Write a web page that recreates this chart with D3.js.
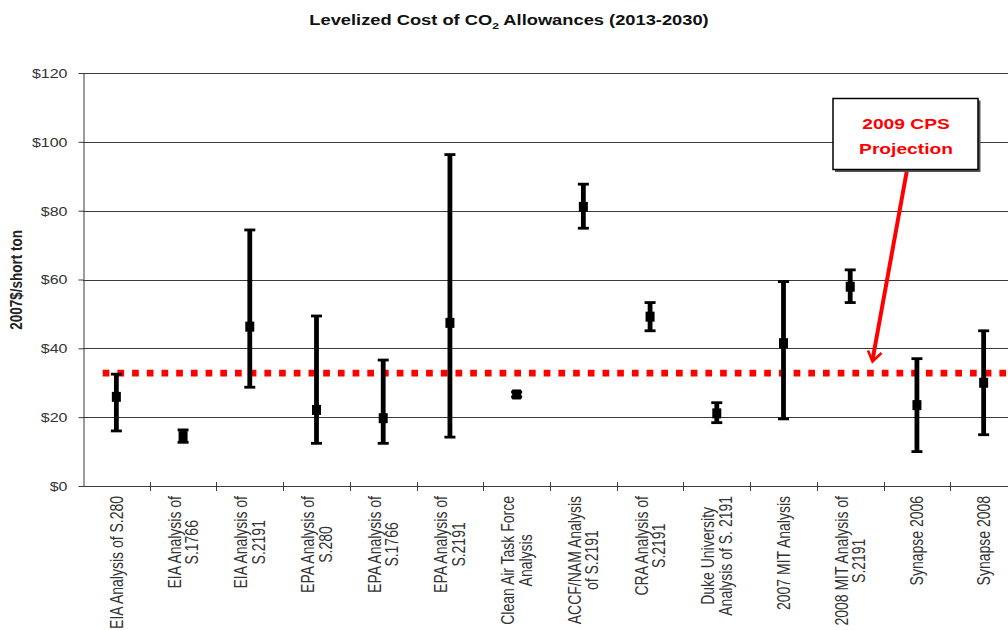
<!DOCTYPE html>
<html>
<head>
<meta charset="utf-8">
<script src="https://cdn.jsdelivr.net/npm/d3@7"></script>
<style>
  html, body { margin: 0; padding: 0; background: #fff; overflow: hidden; }
  svg { display: block; font-family: Arial, "Liberation Sans", sans-serif; }
</style>
</head>
<body>
<svg id="chart" width="1008" height="630"></svg>
<script>
// ---- data ----
const categories = [
  ["EIA Analysis of S.280"],
  ["EIA Analysis of", "S.1766"],
  ["EIA Analysis of", "S.2191"],
  ["EPA Analysis of", "S.280"],
  ["EPA Analysis of", "S.1766"],
  ["EPA Analysis of", "S.2191"],
  ["Clean Air Task Force", "Analysis"],
  ["ACCF/NAM Analysis", "of S.2191"],
  ["CRA Analysis of", "S.2191"],
  ["Duke University", "Analysis of S. 2191"],
  ["2007 MIT Analysis"],
  ["2008 MIT Analysis of", "S.2191"],
  ["Synapse 2006"],
  ["Synapse 2008"]
];
const lowValues  = [16.0, 12.7, 28.7, 12.4, 12.4, 14.2, 25.9, 74.9, 45.1, 18.4, 19.5, 53.3, 10.0, 14.9];
const midValues  = [25.9, 14.5, 46.3, 22.1, 19.7, 47.4, 26.6, 81.1, 49.2, 21.1, 41.5, 57.9, 23.5, 30.0];
const highValues = [32.5, 16.3, 74.4, 49.4, 36.6, 96.3, 27.3, 87.7, 53.3, 24.2, 59.4, 62.8, 37.0, 45.1];
const yTicks = [0, 20, 40, 60, 80, 100, 120];
const cpsProjection = 32.8;
const titleMain = "Levelized Cost of CO";
const titleSub = "2";
const titleRest = " Allowances (2013-2030)";
const yAxisTitle = "2007$/short ton";
const annotationLines = ["2009 CPS", "Projection"];

// ---- layout ----
const W = 1008, H = 630;
const plotLeft = 83, plotRight = 1017, plotTop = 73, plotBottom = 486;
const SX = 1.28; // horizontal text stretch of the original

const svg = d3.select("#chart");
const idx = categories.map((d, i) => i);
const x = d3.scaleBand().domain(idx).range([plotLeft, plotRight]).padding(0);
const y = d3.scaleLinear().domain([0, 120]).range([plotBottom, plotTop]);

// gridlines
svg.append("g").selectAll("line").data(yTicks.filter(d => d > 0)).join("line")
  .attr("x1", plotLeft).attr("x2", W)
  .attr("y1", d => Math.round(y(d)) + 0.5).attr("y2", d => Math.round(y(d)) + 0.5)
  .attr("stroke", "#3a3a3a").attr("stroke-width", 1);

// y axis
const yAxis = svg.append("g").attr("transform", `translate(${plotLeft + 0.5},0)`)
  .call(d3.axisLeft(y).tickValues(yTicks).tickFormat(d => "$" + d).tickSize(5).tickSizeOuter(0));
yAxis.select(".domain").attr("stroke", "#3a3a3a");
yAxis.selectAll(".tick line").attr("stroke", "#3a3a3a");
yAxis.selectAll(".tick text")
  .attr("x", -16 / SX).attr("dy", "0.35em")
  .attr("transform", `scale(${SX},1)`)
  .attr("font-size", 12.5).attr("fill", "#333")
  .attr("font-family", "Arial, 'Liberation Sans', sans-serif");

// x axis line and tick marks at category boundaries
svg.append("line").attr("x1", plotLeft).attr("x2", W)
  .attr("y1", plotBottom + 0.5).attr("y2", plotBottom + 0.5)
  .attr("stroke", "#3a3a3a").attr("stroke-width", 1);
svg.append("g").selectAll("line").data(idx.slice(1)).join("line")
  .attr("x1", d => Math.round(x(d)) + 0.5).attr("x2", d => Math.round(x(d)) + 0.5)
  .attr("y1", plotBottom - 4).attr("y2", plotBottom + 5)
  .attr("stroke", "#3a3a3a").attr("stroke-width", 1);

// x labels (rotated, multi-line, top-aligned, lines centred on longest)
const labelTop = 496;
const lineGap = 17.5;
const lg = svg.append("g");
categories.forEach((lines, i) => {
  const cx = x(i) + x.bandwidth() / 2;
  const g = lg.append("g").attr("transform", `translate(${cx},${labelTop}) scale(${SX},1) rotate(-90)`);
  const texts = lines.map((t, j) => g.append("text")
    .attr("font-size", 14).attr("fill", "#333").text(t)
    .attr("dy", "0.35em")
    .attr("y", ((j - (lines.length - 1) / 2) * lineGap) / SX));
  const maxLen = d3.max(texts, t => t.node().getComputedTextLength());
  texts.forEach(t => t.attr("text-anchor", "middle").attr("x", -maxLen / 2));
});

// red dotted CPS line
svg.append("line")
  .attr("x1", 102.7).attr("x2", W)
  .attr("y1", y(cpsProjection)).attr("y2", y(cpsProjection))
  .attr("stroke", "#ff0000").attr("stroke-width", 6.7)
  .attr("stroke-dasharray", "6.7,8");

// error bars
const bars = svg.append("g").selectAll("g").data(idx).join("g")
  .attr("transform", d => `translate(${x(d) + x.bandwidth() / 2},0)`);
bars.append("line")
  .attr("y1", d => y(highValues[d])).attr("y2", d => y(lowValues[d]))
  .attr("stroke", "#000").attr("stroke-width", 4.8);
bars.append("line")
  .attr("x1", -5.5).attr("x2", 5.5)
  .attr("y1", d => y(highValues[d])).attr("y2", d => y(highValues[d]))
  .attr("stroke", "#000").attr("stroke-width", 2.8);
bars.append("line")
  .attr("x1", -5.5).attr("x2", 5.5)
  .attr("y1", d => y(lowValues[d])).attr("y2", d => y(lowValues[d]))
  .attr("stroke", "#000").attr("stroke-width", 2.8);
bars.append("rect")
  .attr("x", -4.5).attr("width", 9)
  .attr("y", d => y(midValues[d]) - 5).attr("height", 10)
  .attr("fill", "#000");

// title
const title = svg.append("text")
  .attr("transform", `translate(509,25) scale(${SX},1)`)
  .attr("text-anchor", "middle").attr("font-weight", "bold").attr("font-size", 14.3).attr("fill", "#111");
title.append("tspan").text(titleMain);
title.append("tspan").text(titleSub).attr("font-size", 9.5).attr("dy", 4);
title.append("tspan").text(titleRest).attr("dy", -4);

// y axis title
svg.append("text")
  .attr("transform", `translate(22,280) scale(${SX},1) rotate(-90)`)
  .attr("text-anchor", "middle").attr("font-weight", "bold").attr("font-size", 13.5).attr("fill", "#222")
  .text(yAxisTitle);

// annotation arrow
svg.append("line").attr("x1", 907).attr("y1", 170).attr("x2", 872.5).attr("y2", 360)
  .attr("stroke", "#ff0000").attr("stroke-width", 4);
svg.append("path").attr("d", "M868,350.5 L872.5,361.5 L881.5,353")
  .attr("fill", "none").attr("stroke", "#ff0000").attr("stroke-width", 2.5);

// annotation box
svg.append("rect").attr("x", 835).attr("y", 100.5).attr("width", 145.5).attr("height", 71.5)
  .attr("fill", "#555");
svg.append("rect").attr("x", 833).attr("y", 98.5).attr("width", 145).attr("height", 71)
  .attr("fill", "#fff").attr("stroke", "#000").attr("stroke-width", 1.5);
annotationLines.forEach((t, j) => {
  svg.append("text")
    .attr("transform", `translate(906,${128.5 + j * 25}) scale(${SX},1)`)
    .attr("text-anchor", "middle").attr("font-weight", "bold").attr("font-size", 15)
    .attr("fill", "#ff0000").text(t);
});
</script>
</body>
</html>
